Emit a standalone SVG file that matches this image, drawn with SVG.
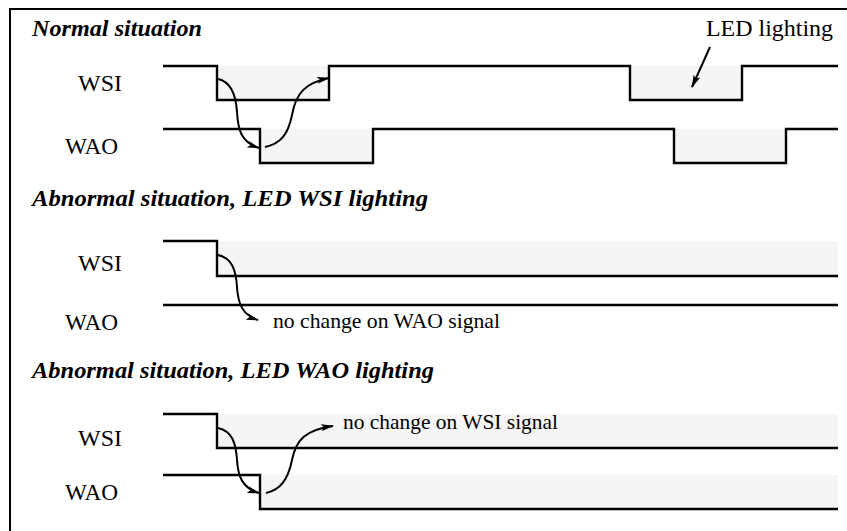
<svg xmlns="http://www.w3.org/2000/svg" width="847" height="531" viewBox="0 0 847 531">
<style>
.frame{fill:none;stroke:#000;stroke-width:2}
.sig{fill:none;stroke:#000;stroke-width:2.4}
.shade{fill:#f5f5f5;stroke:none}
.arr{fill:none;stroke:#000;stroke-width:2;marker-end:url(#ah)}
text{font-family:'Liberation Serif','Times New Roman','DejaVu Serif','Noto Serif',serif;fill:#000}
.hd{font-weight:bold;font-style:italic;font-size:24px}
.lb{font-size:23px}
.nt{font-size:21.5px}
</style>
<defs>
<marker id="ah" markerUnits="userSpaceOnUse" markerWidth="14" markerHeight="8" refX="12" refY="4" orient="auto">
<path d="M0,0.5 L13,4 L0,7.5 L3,4 z" fill="#000"/>
</marker>
</defs>
<rect width="847" height="531" fill="#fff"/>
<path class="frame" d="M10,535 V9 H850"/>

<g id="normal">
<text class="hd" x="32" y="36" textLength="170" lengthAdjust="spacingAndGlyphs">Normal situation</text>
<g id="normal-wsi">
<rect class="shade" x="217" y="66" width="112" height="34"/>
<rect class="shade" x="630" y="66" width="112" height="34"/>
<text class="lb" x="78" y="91" textLength="44" lengthAdjust="spacingAndGlyphs">WSI</text>
<path class="sig" d="M163,66 H217 V100 H329 V66 H630 V100 H742 V66 H838"/>
</g>
<g id="normal-wao">
<rect class="shade" x="260" y="129" width="113" height="34"/>
<rect class="shade" x="674" y="129" width="112" height="34"/>
<text class="lb" x="65" y="154" textLength="53" lengthAdjust="spacingAndGlyphs">WAO</text>
<path class="sig" d="M163,129 H260 V163 H373 V129 H674 V163 H786 V129 H838"/>
</g>
<text class="lb" x="706" y="36" textLength="127" lengthAdjust="spacingAndGlyphs">LED lighting</text>
</g>

<g id="abn-wsi">
<text class="hd" x="32" y="206" textLength="396" lengthAdjust="spacingAndGlyphs">Abnormal situation, LED WSI lighting</text>
<g id="abn-wsi-wsi">
<rect class="shade" x="217" y="241" width="621" height="35"/>
<text class="lb" x="78" y="271" textLength="44" lengthAdjust="spacingAndGlyphs">WSI</text>
<path class="sig" d="M163,241 H217 V276 H838"/>
</g>
<g id="abn-wsi-wao">
<text class="lb" x="65" y="330" textLength="53" lengthAdjust="spacingAndGlyphs">WAO</text>
<path class="sig" d="M163,305 H838"/>
</g>
<text class="nt" x="273" y="328" textLength="227" lengthAdjust="spacingAndGlyphs">no change on WAO signal</text>
</g>

<g id="abn-wao">
<text class="hd" x="32" y="378" textLength="402" lengthAdjust="spacingAndGlyphs">Abnormal situation, LED WAO lighting</text>
<g id="abn-wao-wsi">
<rect class="shade" x="217" y="414" width="621" height="34"/>
<text class="lb" x="78" y="446" textLength="44" lengthAdjust="spacingAndGlyphs">WSI</text>
<path class="sig" d="M163,414 H217 V448 H838"/>
</g>
<g id="abn-wao-wao">
<rect class="shade" x="260" y="475" width="578" height="34"/>
<text class="lb" x="65" y="500" textLength="53" lengthAdjust="spacingAndGlyphs">WAO</text>
<path class="sig" d="M163,475 H260 V509 H838"/>
</g>
<text class="nt" x="343" y="429" textLength="215" lengthAdjust="spacingAndGlyphs">no change on WSI signal</text>
</g>

<g id="connectors">
<path class="arr" d="M218,79 C232,82 236,96 237,112 C238,130 241,142 259,148"/>
<path class="arr" d="M265,147 C280,144 288,135 292,115 C296,93 305,83 329,78"/>
<path class="arr" d="M710,47 L692,87"/>
<path class="arr" d="M218,255 C232,258 236,270 237,287 C238,303 242,315 258,320"/>
<path class="arr" d="M218,428 C232,431 236,443 237,460 C238,476 242,488 259,493"/>
<path class="arr" d="M266,493 C280,490 288,480 292,460 C296,440 305,430 333,426"/>
</g>
</svg>
